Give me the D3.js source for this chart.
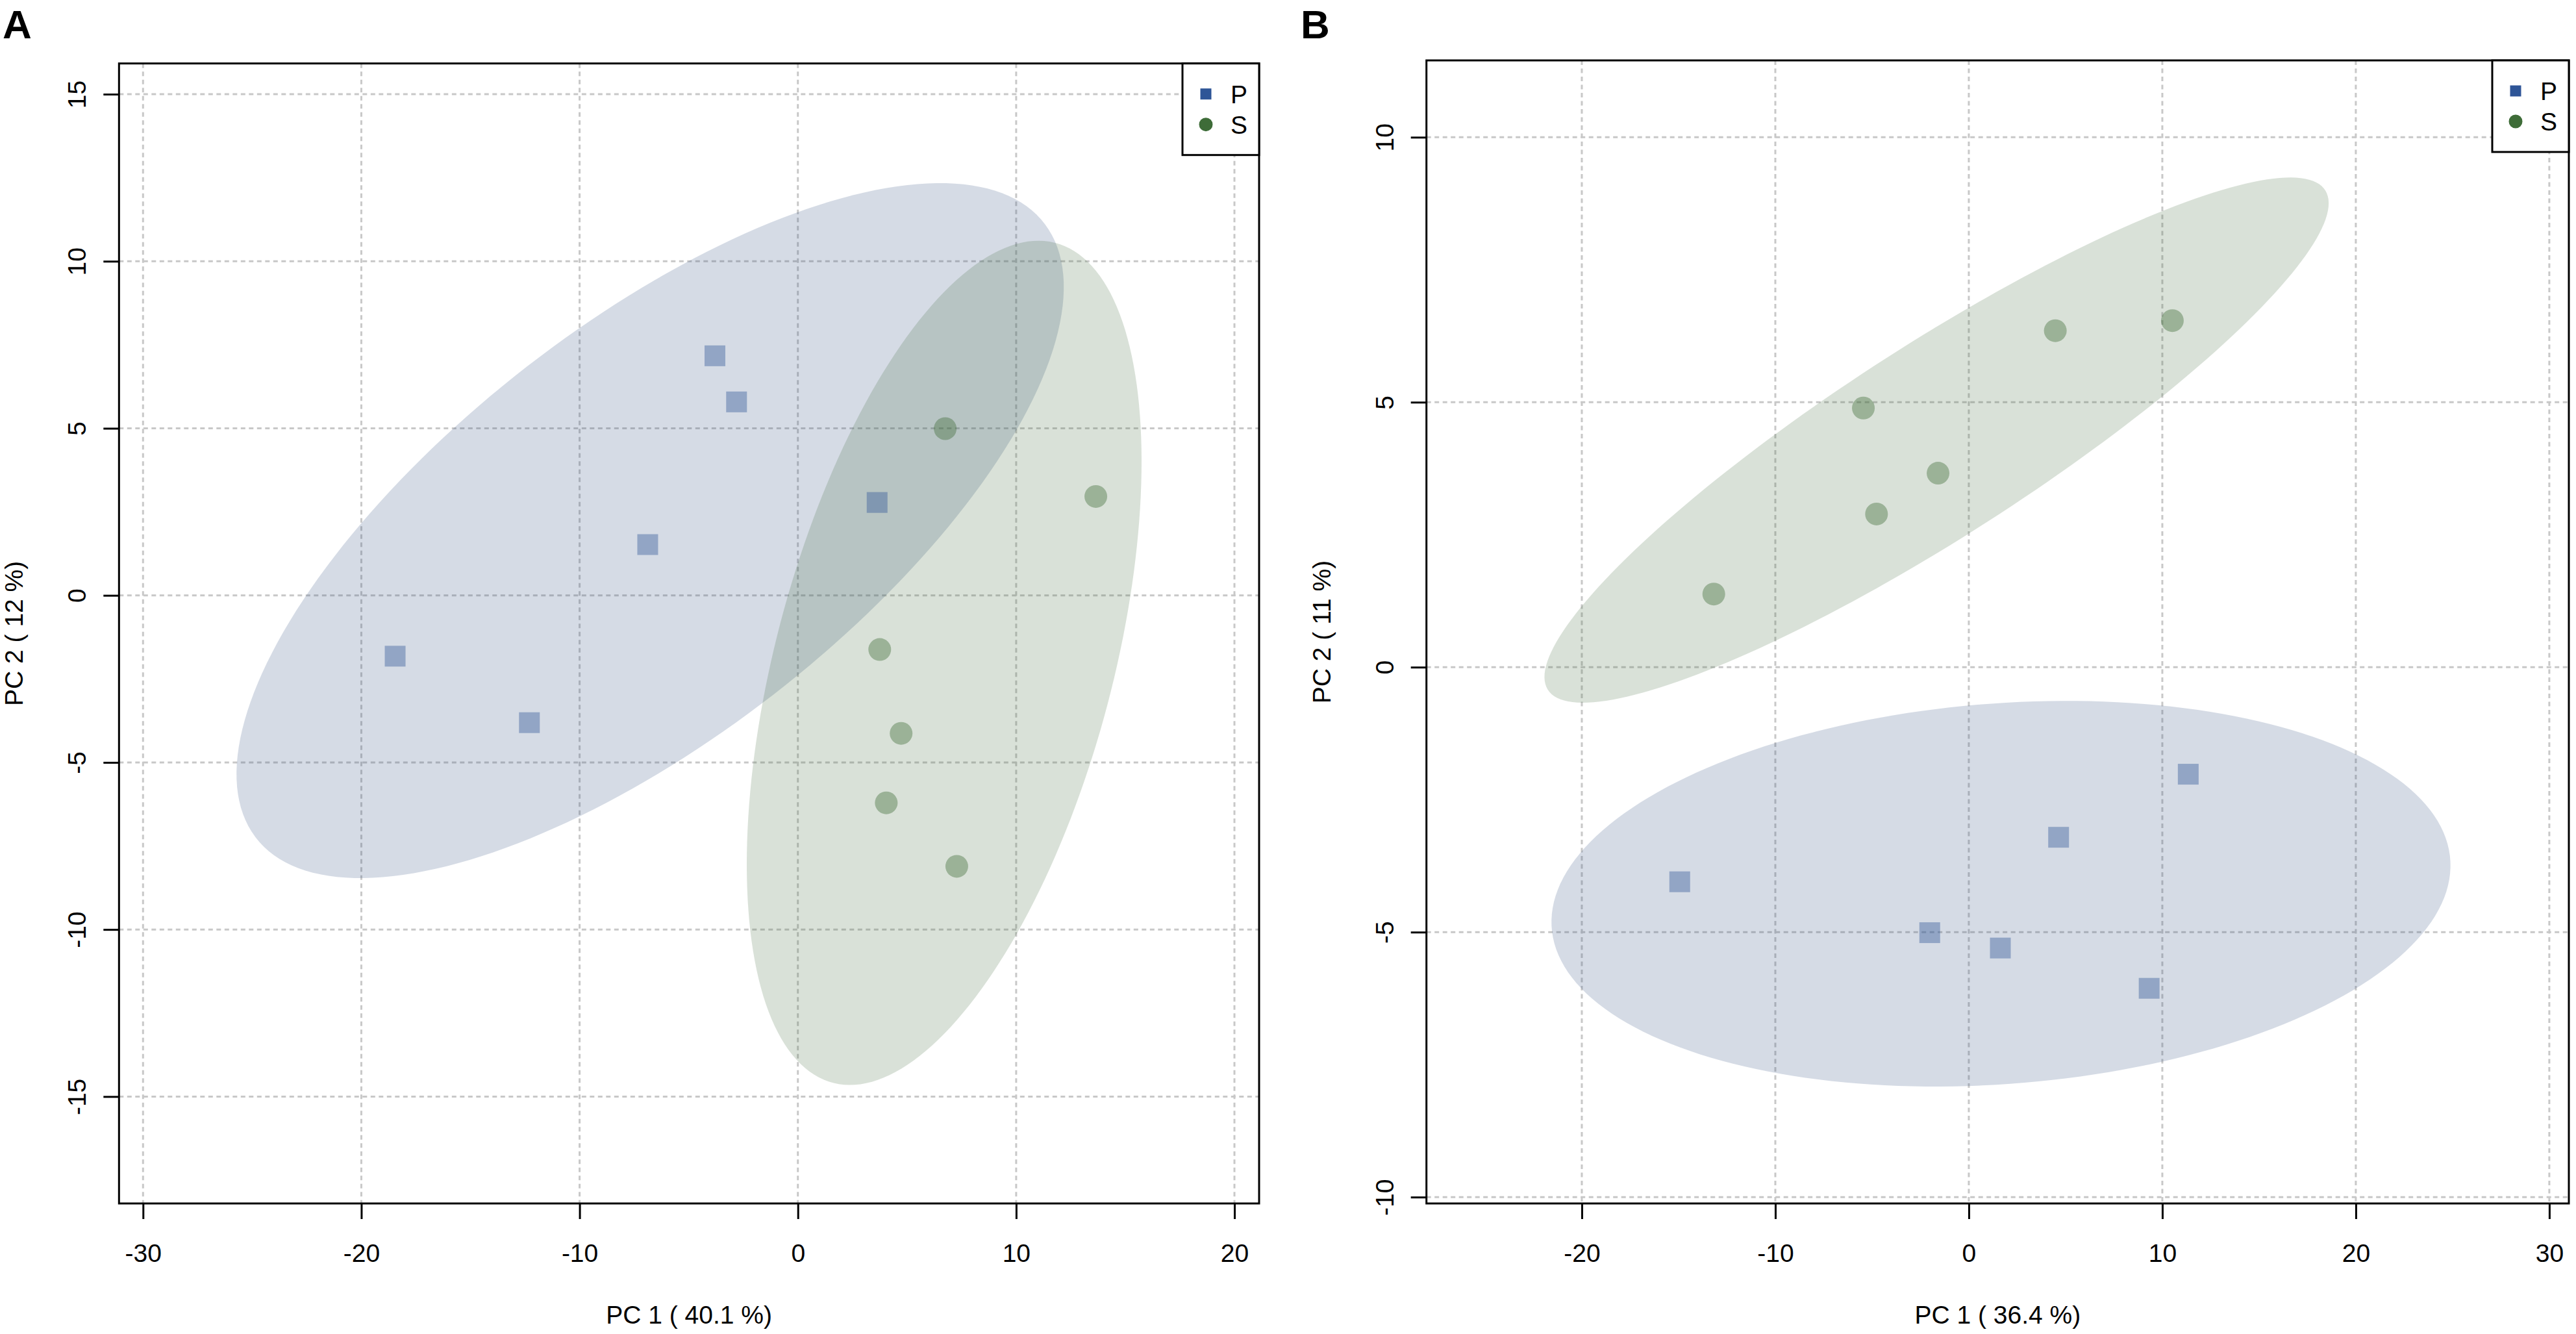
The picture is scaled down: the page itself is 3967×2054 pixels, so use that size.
<!DOCTYPE html>
<html lang="en">

<head>
  <meta charset="UTF-8">
  <title>PCA score plots</title>
  <script src="https://d3js.org/d3.v7.min.js"></script>
  <style>
    body { margin: 0; background: #fff; }
    text { font-family: "Liberation Sans", Arial, sans-serif; fill: #000; }
  </style>
</head>

<body>
  <script>
    const groups = ['P', 'S']

    // panel A scores
    const aPx = [-3.80, -2.81, 3.63, -6.88, -18.45, -12.30]
    const aPy = [7.17, 5.79, 2.78, 1.52, -1.82, -3.81]
    const aSx = [6.75, 13.65, 3.75, 4.73, 4.05, 7.28]
    const aSy = [4.99, 2.96, -1.62, -4.13, -6.21, -8.11]

    // panel B scores
    const bPx = [-14.94, -2.02, 1.63, 4.64, 9.32, 11.34]
    const bPy = [-4.05, -5.01, -5.30, -3.21, -6.06, -2.02]
    const bSx = [-13.18, -5.45, -4.77, -1.59, 4.47, 10.52]
    const bSy = [1.38, 4.89, 2.89, 3.66, 6.35, 6.54]

    // tick labels
    const aXTicks = [-30, -20, -10, 0, 10, 20]
    const aYTicks = [-15, -10, -5, 0, 5, 10, 15]
    const bXTicks = [-20, -10, 0, 10, 20, 30]
    const bYTicks = [-10, -5, 0, 5, 10]

    const aXTitle = 'PC 1 ( 40.1 %)'
    const aYTitle = 'PC 2 ( 12 %)'
    const bXTitle = 'PC 1 ( 36.4 %)'
    const bYTitle = 'PC 2 ( 11 %)'

    const colors = { P: '#2e5597', S: '#3e6c38' }
    const fills = { P: '#2d4b7d', S: '#41693a' }

    const w = 3967
    const h = 2054

    const svg = d3.select('body')
      .append('svg')
      .attr('width', w)
      .attr('height', h)

    // 95% confidence ellipse, same recipe as the R ellipse package
    function ellipsePts(xs, ys) {
      const mx = d3.mean(xs), my = d3.mean(ys)
      const sx = d3.deviation(xs), sy = d3.deviation(ys)
      const cov = d3.sum(xs, (x, i) => (x - mx) * (ys[i] - my)) / (xs.length - 1)
      const d = Math.acos(cov / (sx * sy))
      const t = Math.sqrt(5.991465)
      return d3.range(0, 200).map(k => {
        const a = k / 200 * 2 * Math.PI
        return [mx + t * sx * Math.cos(a + d / 2), my + t * sy * Math.cos(a - d / 2)]
      })
    }

    function panel(p) {
      const g = svg.append('g')
      const x = d3.scaleLinear().domain(p.xDom).range([p.left, p.right])
      const y = d3.scaleLinear().domain(p.yDom).range([p.bottom, p.top])

      const clipId = 'clip' + p.label
      g.append('clipPath').attr('id', clipId)
        .append('rect')
        .attr('x', p.left).attr('y', p.top)
        .attr('width', p.right - p.left).attr('height', p.bottom - p.top)

      // grid
      g.selectAll('.gx').data(p.xTicks).enter().append('line')
        .attr('x1', d => x(d)).attr('x2', d => x(d))
        .attr('y1', p.top).attr('y2', p.bottom)
        .attr('stroke', '#c8c8c8').attr('stroke-width', 3)
        .attr('stroke-dasharray', '7 5.5')
      g.selectAll('.gy').data(p.yTicks).enter().append('line')
        .attr('y1', d => y(d)).attr('y2', d => y(d))
        .attr('x1', p.left).attr('x2', p.right)
        .attr('stroke', '#c8c8c8').attr('stroke-width', 3)
        .attr('stroke-dasharray', '7 5.5')

      // ellipses
      const line = d3.line().x(d => x(d[0])).y(d => y(d[1])).curve(d3.curveLinearClosed)
      const plot = g.append('g').attr('clip-path', `url(#${clipId})`)
      groups.forEach(k => {
        plot.append('path')
          .attr('d', line(ellipsePts(p.data[k][0], p.data[k][1])))
          .attr('fill', fills[k])
          .attr('fill-opacity', 0.2)
      })

      // points
      const P = p.data.P[0].map((v, i) => [v, p.data.P[1][i]])
      const S = p.data.S[0].map((v, i) => [v, p.data.S[1][i]])
      plot.selectAll('.sq').data(P).enter().append('rect')
        .attr('x', d => x(d[0]) - 16).attr('y', d => y(d[1]) - 16)
        .attr('width', 32).attr('height', 32)
        .attr('fill', colors.P).attr('fill-opacity', 0.4)
      plot.selectAll('.ci').data(S).enter().append('circle')
        .attr('cx', d => x(d[0])).attr('cy', d => y(d[1]))
        .attr('r', 17.5)
        .attr('fill', colors.S).attr('fill-opacity', 0.4)

      // axes
      const xAxis = d3.axisBottom(x).tickValues(p.xTicks).tickSize(24).tickFormat(d => String(d))
      const yAxis = d3.axisLeft(y).tickValues(p.yTicks).tickSize(24).tickFormat(d => String(d))
      const gx = g.append('g')
        .attr('transform', `translate(0,${p.bottom})`)
        .call(xAxis)
      gx.select('.domain').remove()
      gx.selectAll('line').attr('stroke-width', 3)
      gx.selectAll('text').attr('font-size', 39).attr('dy', null).attr('y', 90)
        .style('font-family', '"Liberation Sans", Arial, sans-serif')

      const gy = g.append('g')
        .attr('transform', `translate(${p.left},0)`)
        .call(yAxis)
      gy.select('.domain').remove()
      gy.selectAll('line').attr('stroke-width', 3)
      gy.selectAll('text')
        .attr('font-size', 39)
        .attr('x', null).attr('dy', null)
        .attr('text-anchor', 'middle')
        .attr('transform', 'translate(-51,0) rotate(-90)')
        .style('font-family', '"Liberation Sans", Arial, sans-serif')

      // frame
      g.append('rect')
        .attr('x', p.left).attr('y', p.top)
        .attr('width', p.right - p.left).attr('height', p.bottom - p.top)
        .attr('fill', 'none').attr('stroke', '#000').attr('stroke-width', 3)

      // axis titles
      g.append('text')
        .attr('x', (p.left + p.right) / 2).attr('y', p.bottom + 185)
        .attr('text-anchor', 'middle').attr('font-size', 39)
        .text(p.xTitle)
      g.append('text')
        .attr('transform', `translate(${p.left - 148},${(p.top + p.bottom) / 2}) rotate(-90)`)
        .attr('text-anchor', 'middle').attr('font-size', 39)
        .text(p.yTitle)

      // legend
      const lg = g.append('g')
      lg.append('rect')
        .attr('x', p.right - 118).attr('y', p.top)
        .attr('width', 118).attr('height', 141)
        .attr('fill', '#fff').attr('stroke', '#000').attr('stroke-width', 3)
      groups.forEach((k, i) => {
        const cy = p.top + 47 + i * 47
        if (k === 'P') {
          lg.append('rect').attr('x', p.right - 82 - 8.5).attr('y', cy - 8.5)
            .attr('width', 17).attr('height', 17).attr('fill', colors.P)
        } else {
          lg.append('circle').attr('cx', p.right - 82).attr('cy', cy).attr('r', 10.5)
            .attr('fill', colors.S)
        }
        lg.append('text')
          .attr('x', p.right - 44).attr('y', cy + 14)
          .attr('font-size', 39)
          .text(k)
      })

      // panel letter
      svg.append('text')
        .attr('x', p.labelX).attr('y', 59)
        .attr('font-size', 62).attr('font-weight', 'bold')
        .text(p.label)
    }

    panel({
      label: 'A', labelX: 4,
      left: 183.3, right: 1939, top: 97.7, bottom: 1853,
      xDom: [-31.1, 21.13], yDom: [-18.2, 15.92],
      xTicks: aXTicks, yTicks: aYTicks,
      xTitle: aXTitle, yTitle: aYTitle,
      data: { P: [aPx, aPy], S: [aSx, aSy] }
    })

    panel({
      label: 'B', labelX: 2003,
      left: 2196.7, right: 3956, top: 93, bottom: 1853,
      xDom: [-28.03, 31.01], yDom: [-10.12, 11.45],
      xTicks: bXTicks, yTicks: bYTicks,
      xTitle: bXTitle, yTitle: bYTitle,
      data: { P: [bPx, bPy], S: [bSx, bSy] }
    })
  </script>
</body>

</html>
